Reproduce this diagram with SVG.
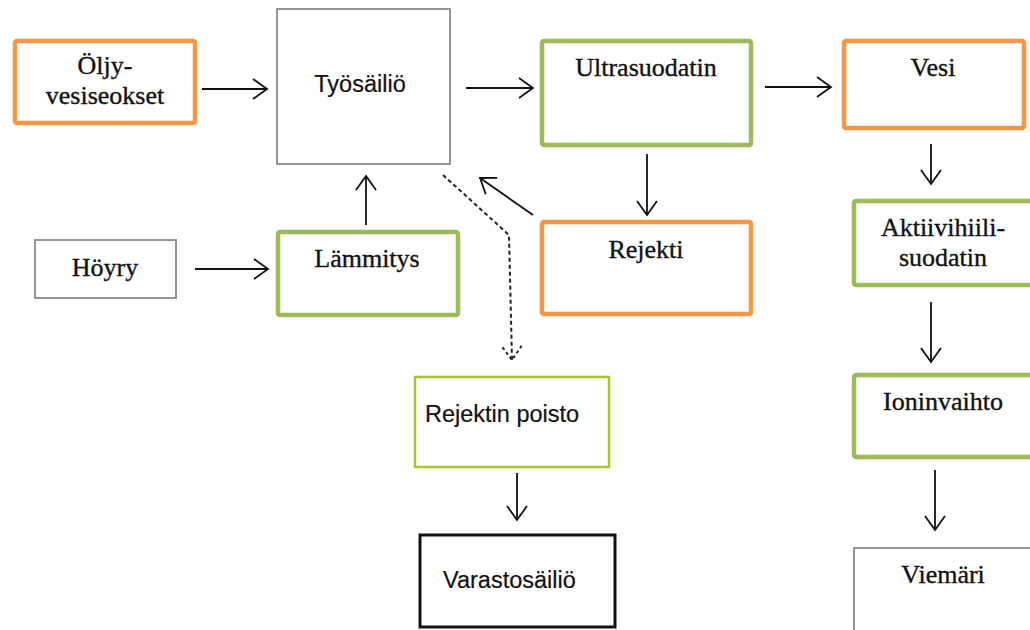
<svg xmlns="http://www.w3.org/2000/svg" width="1030" height="630" viewBox="0 0 1030 630">
  <style>
    .box { fill: #ffffff; }
    .orange { stroke: #F79646; stroke-width: 4.5; }
    .green { stroke: #9BBB59; stroke-width: 4.5; }
    .lime { stroke: #AAC52C; stroke-width: 2.5; }
    .gray { stroke: #8a8a8a; stroke-width: 1.8; }
    .black { stroke: #111111; stroke-width: 3; }
    .serif { font-family: "Liberation Serif", "Times New Roman", serif; font-size: 26px; fill: #111111; stroke: #111111; stroke-width: 0.35; text-anchor: middle; }
    .sans { font-family: "Liberation Sans", Arial, sans-serif; font-size: 23.5px; fill: #111111; stroke: #111111; stroke-width: 0.2; }
    .conn { fill: none; stroke: #111111; stroke-width: 1.8; }
    .dash { fill: none; stroke: #222222; stroke-width: 2; stroke-dasharray: 4 3; }
  </style>
  <defs>
    <marker id="open" markerUnits="userSpaceOnUse" markerWidth="20" markerHeight="26" refX="15" refY="11" orient="auto">
      <path d="M1,1 L15,11 L1,21" fill="none" stroke="#111111" stroke-width="1.8"/>
    </marker>
    <marker id="dotted" markerUnits="userSpaceOnUse" markerWidth="20" markerHeight="26" refX="15" refY="11" orient="auto">
      <path d="M1,1 L15,11 L1,21" fill="none" stroke="#222222" stroke-width="2" stroke-dasharray="3 3"/>
    </marker>
  </defs>

  <g id="connectors">
    <line class="conn" x1="202" y1="89" x2="267" y2="89" marker-end="url(#open)"/>
    <line class="conn" x1="195" y1="269" x2="268" y2="269" marker-end="url(#open)"/>
    <line class="conn" x1="366" y1="225" x2="366" y2="176" marker-end="url(#open)"/>
    <line class="conn" x1="466" y1="88" x2="533" y2="88" marker-end="url(#open)"/>
    <line class="conn" x1="765" y1="87" x2="831" y2="87" marker-end="url(#open)"/>
    <line class="conn" x1="647" y1="154" x2="647" y2="215" marker-end="url(#open)"/>
    <line class="conn" x1="533" y1="215" x2="480" y2="178" marker-end="url(#open)"/>
    <line class="conn" x1="931" y1="144" x2="931" y2="184" marker-end="url(#open)"/>
    <line class="conn" x1="931" y1="302" x2="931" y2="362" marker-end="url(#open)"/>
    <line class="conn" x1="935" y1="470" x2="935" y2="530" marker-end="url(#open)"/>
    <line class="conn" x1="517" y1="473" x2="517" y2="520" marker-end="url(#open)"/>
    <path class="dash" d="M443,175 L509,235 L512,360" marker-end="url(#dotted)"/>
  </g>

  <g id="oljy">
    <rect class="box orange" x="15" y="41" width="180" height="82" rx="2"/>
    <text class="serif" x="105" y="74">Öljy-</text>
    <text class="serif" x="105" y="104">vesiseokset</text>
  </g>
  <g id="tyosailio">
    <rect class="box gray" x="277" y="9" width="173" height="155"/>
    <text class="sans" x="360" y="92" text-anchor="middle">Työsäiliö</text>
  </g>
  <g id="hoyry">
    <rect class="box gray" x="35" y="240" width="141" height="58"/>
    <text class="serif" x="105" y="276">Höyry</text>
  </g>
  <g id="lammitys">
    <rect class="box green" x="278" y="232" width="180" height="83" rx="2"/>
    <text class="serif" x="367" y="267">Lämmitys</text>
  </g>
  <g id="ultrasuodatin">
    <rect class="box green" x="542" y="41" width="209" height="104" rx="2"/>
    <text class="serif" x="646" y="76">Ultrasuodatin</text>
  </g>
  <g id="rejekti">
    <rect class="box orange" x="542" y="222" width="209" height="92" rx="2"/>
    <text class="serif" x="646" y="258">Rejekti</text>
  </g>
  <g id="vesi">
    <rect class="box orange" x="844" y="41" width="180" height="87" rx="2"/>
    <text class="serif" x="933" y="76">Vesi</text>
  </g>
  <g id="aktiivihiili">
    <rect class="box green" x="854" y="201" width="190" height="84" rx="2"/>
    <text class="serif" x="943" y="236">Aktiivihiili-</text>
    <text class="serif" x="943" y="266">suodatin</text>
  </g>
  <g id="ioninvaihto">
    <rect class="box green" x="854" y="375" width="190" height="82" rx="2"/>
    <text class="serif" x="943" y="410">Ioninvaihto</text>
  </g>
  <g id="viemari">
    <rect class="box gray" x="854" y="548" width="190" height="100"/>
    <text class="serif" x="943" y="583">Viemäri</text>
  </g>
  <g id="rejektin-poisto">
    <rect class="box lime" x="415" y="377" width="194" height="90"/>
    <text class="sans" x="425" y="422">Rejektin poisto</text>
  </g>
  <g id="varastosailio">
    <rect class="box black" x="420" y="535" width="195" height="92"/>
    <text class="sans" x="443" y="588">Varastosäiliö</text>
  </g>
</svg>
